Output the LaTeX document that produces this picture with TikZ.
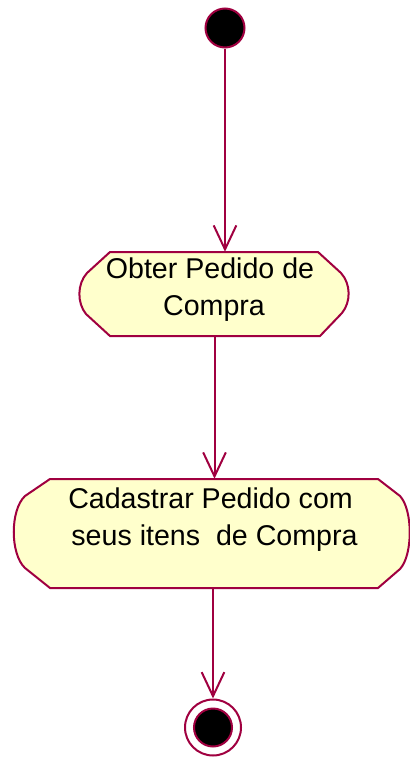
\documentclass[tikz,border=0pt]{standalone}
\usepackage{fontspec}
\setmainfont{Liberation Sans}
\usetikzlibrary{arrows.meta}
\definecolor{umlred}{RGB}{160,0,64}
\definecolor{umlfill}{RGB}{255,255,204}
\begin{document}
\begin{tikzpicture}[x=0.75pt,y=-0.75pt,
  edge/.style={draw=umlred, line width=1.5pt},
  arr/.style={edge, -{Straight Barb[length=18pt,width=17pt]}},
  actbox/.style={draw=none, inner sep=0pt, rectangle},
  acttext/.style={anchor=north, inner sep=0pt, align=center,
    font=\fontsize{21.45pt}{27.75pt}\selectfont},
  startnode/.style={circle, fill=black, draw=umlred, line width=1.5pt, inner sep=0pt, minimum size=29.25pt},
  endouter/.style={circle, fill=white, draw=umlred, line width=1.5pt, inner sep=0pt, minimum size=42pt},
  endinner/.style={circle, fill=black, draw=umlred, line width=1.5pt, inner sep=0pt, minimum size=28.5pt}]
\useasboundingbox (0,0) rectangle (410,757);

% start
\node[startnode] (start) at (225,28) {};

% activity 1
\node[actbox, minimum width=203.25pt, minimum height=63pt] (act1) at (214.5,294) {};
\filldraw[edge, fill=umlfill] (110,252) -- (318,252) -- (341,273)
  .. controls (351,284) and (351,302) .. (342,313) -- (320,336) -- (110,336) -- (86,314)
  .. controls (77,303) and (77,284) .. (87,273) -- cycle;
\node[acttext] (act1text) at (214,258) {Obter Pedido de\kern.278em\\Compra};

% activity 2
\node[actbox, minimum width=297.75pt, minimum height=81.75pt] (act2) at (211.5,533.5) {};
\filldraw[edge, fill=umlfill] (50,479) -- (378,479) -- (400,496)
  .. controls (413,510) and (413,555) .. (400,569) -- (378,588) -- (50,588) -- (25,568)
  .. controls (10,554) and (10,510) .. (25,496) -- cycle;
\node[acttext] (act2text) at (214.5,488) {Cadastrar Pedido com\kern.278em\\seus itens\ \ de Compra};

% end
\node[endouter] (end) at (213,727.5) {};
\node[endinner] (endin) at (end) {};

% connectors
\draw[arr] (start) -- (start |- act1.north);
\draw[arr] (act1.south) -- (act1.south |- act2.north);
\draw[arr] (act2.south -| end) -- (end);
\end{tikzpicture}
\end{document}
